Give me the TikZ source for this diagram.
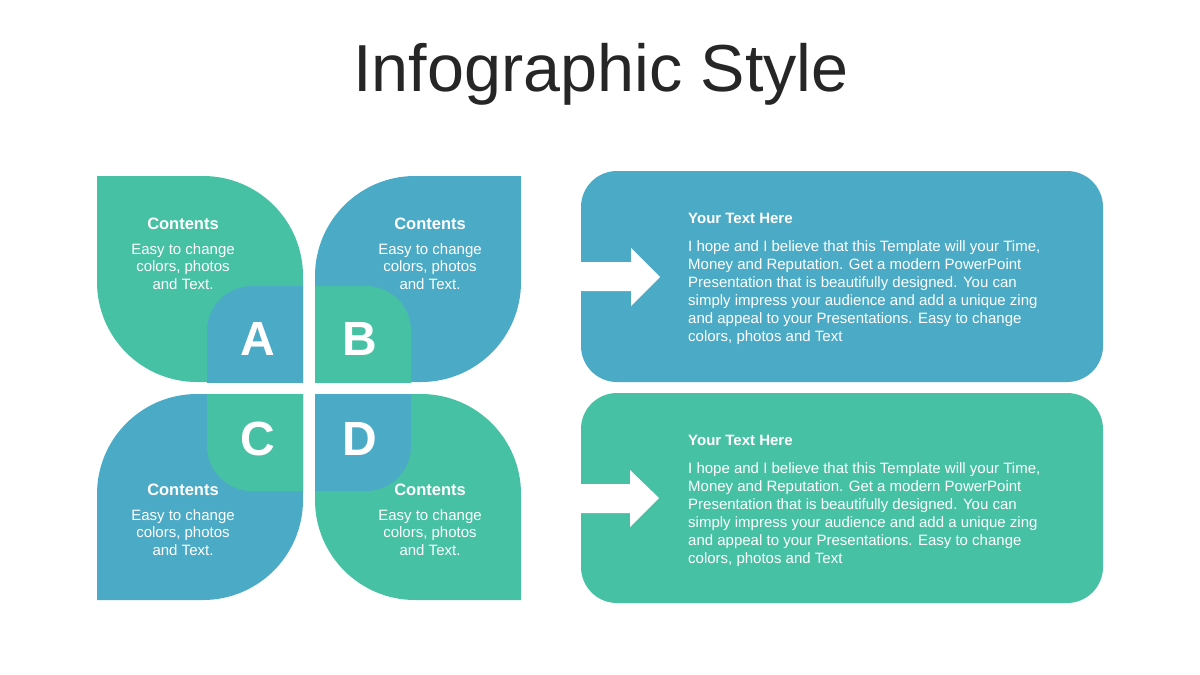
\documentclass[tikz,border=0pt]{standalone}
\usepackage{fontspec}
\setmainfont{Liberation Sans}
\definecolor{tealblue}{RGB}{75,170,197}
\definecolor{seagreen}{RGB}{71,193,163}
\definecolor{titlegray}{RGB}{38,38,38}

\begin{document}
\begin{tikzpicture}[x=1pt, y=-1pt,
  every node/.style={inner sep=0pt, text=white},
  head/.style={font=\bfseries\fontsize{16.5}{18}\selectfont, anchor=base},
  body/.style={font=\fontsize{15}{17.7}\selectfont, align=center, anchor=base},
  letter/.style={font=\bfseries\fontsize{48}{48}\selectfont, anchor=base},
  panelhead/.style={font=\bfseries\fontsize{15}{18}\selectfont, anchor=base west},
  paneltext/.style={font=\fontsize{15}{18}\selectfont, align=left, anchor=base west},
  panel/.style={rounded corners=36pt}
]
\fill[white] (0,0) rectangle (1200,675);
\useasboundingbox (0,0) rectangle (1200,675);

\node[text=titlegray, font=\fontsize{66.5}{72}\selectfont, anchor=base] (title) at (601,91) {Infographic Style};

\fill[seagreen] (97,176) -- (203,176) arc[start angle=-90, end angle=0, radius=100] -- (303,382) -- (197,382) arc[start angle=90, end angle=180, radius=100] -- cycle;
\fill[tealblue] (521,176) -- (521,282) arc[start angle=0, end angle=90, radius=100] -- (315,382) -- (315,276) arc[start angle=180, end angle=270, radius=100] -- cycle;
\fill[tealblue] (97,600) -- (97,494) arc[start angle=180, end angle=270, radius=100] -- (303,394) -- (303,500) arc[start angle=0, end angle=90, radius=100] -- cycle;
\fill[seagreen] (315,394) -- (421,394) arc[start angle=-90, end angle=0, radius=100] -- (521,600) -- (415,600) arc[start angle=90, end angle=180, radius=100] -- cycle;

\begin{scope}
  \clip (97,176) rectangle (303,382);
  \fill[tealblue, rounded corners=45pt] (207,286) rectangle (411,491);
\end{scope}
\begin{scope}
  \clip (315,176) rectangle (521,382);
  \fill[seagreen, rounded corners=45pt] (207,286) rectangle (411,491);
\end{scope}
\begin{scope}
  \clip (97,394) rectangle (303,600);
  \fill[seagreen, rounded corners=45pt] (207,286) rectangle (411,491);
\end{scope}
\begin{scope}
  \clip (315,394) rectangle (521,600);
  \fill[tealblue, rounded corners=45pt] (207,286) rectangle (411,491);
\end{scope}

\node[letter] (A) at (258,355) {A};
\node[letter] (B) at (360,355) {B};
\node[letter] (C) at (258,455) {C};
\node[letter] (D) at (360,455) {D};

\node[head] (headA) at (183,229) {Contents};
\node[body] (bodyA) at (183,289.5) {Easy to change\\colors, photos\\and Text.};
\node[head] (headB) at (430,229) {Contents};
\node[body] (bodyB) at (430,289.5) {Easy to change\\colors, photos\\and Text.};
\node[head] (headC) at (183,495) {Contents};
\node[body] (bodyC) at (183,555.5) {Easy to change\\colors, photos\\and Text.};
\node[head] (headD) at (430,495) {Contents};
\node[body] (bodyD) at (430,555.5) {Easy to change\\colors, photos\\and Text.};

\fill[tealblue, panel] (581,171) rectangle (1103,382);
\fill[white] (581,262) -- (631,262) -- (631,248) -- (660,277) -- (631,306) -- (631,291) -- (581,291) -- cycle;
\node[panelhead] (title1) at (688,223) {Your Text Here};
\node[paneltext] (text1) at (688,341.7) {I hope and I believe that this Template will your Time,\\Money and Reputation. Get a modern PowerPoint\\Presentation that is beautifully designed. You can\\simply impress your audience and add a unique zing\\and appeal to your Presentations. Easy to change\\colors, photos and Text};

\fill[seagreen, panel] (581,393) rectangle (1103,603);
\fill[white] (581,484) -- (630,484) -- (630,470) -- (659,498) -- (630,527) -- (630,513) -- (581,513) -- cycle;
\node[panelhead] (title2) at (688,445) {Your Text Here};
\node[paneltext] (text2) at (688,563.5) {I hope and I believe that this Template will your Time,\\Money and Reputation. Get a modern PowerPoint\\Presentation that is beautifully designed. You can\\simply impress your audience and add a unique zing\\and appeal to your Presentations. Easy to change\\colors, photos and Text};
\end{tikzpicture}
\end{document}
